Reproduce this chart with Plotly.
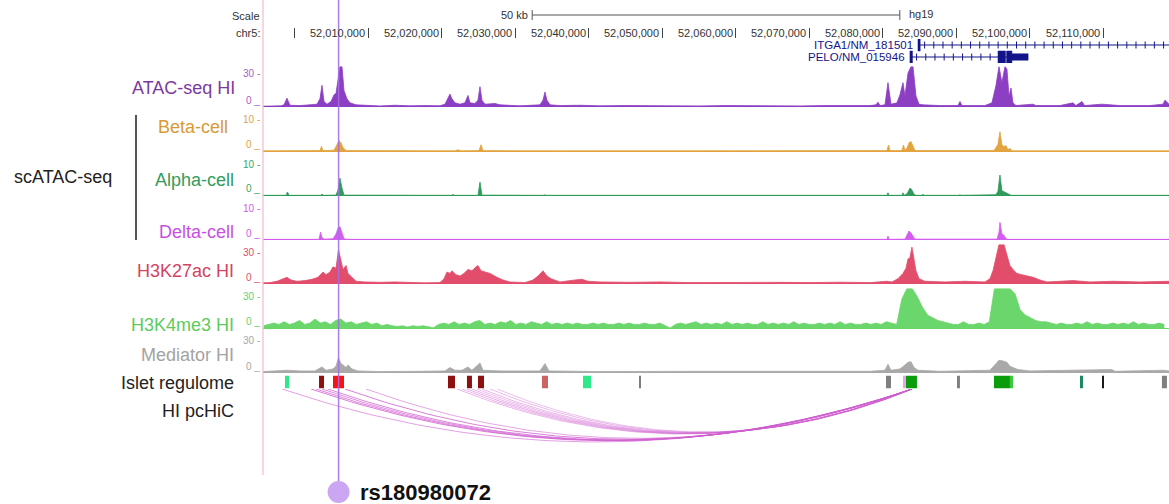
import numpy as np
import plotly.graph_objects as go

W, H = 1169, 504
FONT = "Liberation Sans, Arial, Helvetica, sans-serif"

# ---------------------------------------------------------------- data
view_start_kb = 51995.72
view_end_kb = 52118.94
chrom_label = "chr5:"
genome_label = "hg19"
scale_bar_kb = 50
chr_ticks_kb = [52000, 52010, 52020, 52030, 52040, 52050, 52060, 52070, 52080, 52090, 52100, 52110]
chr_tick_labels = ["", "52,010,000", "52,020,000", "52,030,000", "52,040,000", "52,050,000",
                   "52,060,000", "52,070,000", "52,080,000", "52,090,000", "52,100,000", "52,110,000"]

snp_kb = 52006.0
snp_name = "rs180980072"

gene_names = ["ITGA1/NM_181501", "PELO/NM_015946"]
gene_rows = [1, 0]
gene_tx_start_kb = [52084.80, 52083.71]
gene_tx_end_kb = [52140.00, 52099.78]
gene_exons_kb = [
    [(52084.80, 52085.10, 1)],
    [(52083.71, 52084.05, 1), (52095.68, 52096.70, 1), (52096.85, 52097.58, 1), (52097.58, 52099.78, 0)],
]

# signal profiles: (position kb, value)
atac_signal = [
    (51995.72, 0.5), (51997.35, 1), (51998.17, 0.8), (51998.58, 1.5), (51998.98, 6.5), (51999.39, 1.2),
    (52000.75, 1), (52002.11, 1.5), (52003.06, 2), (52003.47, 6), (52003.74, 16), (52004.02, 4),
    (52004.42, 2), (52004.97, 4), (52005.38, 9), (52005.65, 10), (52005.92, 22), (52006.19, 30),
    (52006.46, 30), (52006.74, 12), (52007.14, 6), (52007.55, 3), (52008.37, 1.5), (52009.59, 1),
    (52011.63, 0.7), (52013.67, 1.2), (52015.71, 0.8), (52017.75, 1), (52019.79, 0.8), (52020.47, 2),
    (52020.88, 7), (52021.15, 9.5), (52021.42, 6), (52021.83, 3), (52022.51, 2), (52023.19, 3),
    (52023.60, 8.5), (52023.87, 3), (52024.55, 2.5), (52024.96, 5), (52025.23, 15), (52025.50, 5),
    (52025.91, 2), (52027.27, 2.5), (52027.95, 1.5), (52030.67, 0.8), (52033.39, 1.5), (52033.80, 5),
    (52034.07, 11), (52034.34, 5), (52034.75, 1.5), (52036.11, 1), (52038.83, 1.2), (52041.55, 0.8),
    (52044.95, 1), (52048.35, 0.8), (52051.75, 1), (52055.15, 0.7), (52058.55, 1), (52061.95, 0.8),
    (52065.35, 1), (52068.75, 0.7), (52072.15, 1), (52075.55, 0.8), (52078.27, 1), (52079.09, 1.5),
    (52079.36, 3.5), (52079.63, 1), (52080.31, 1.5), (52080.72, 18), (52081.13, 2), (52081.94, 3),
    (52082.35, 9), (52082.76, 18), (52083.03, 8), (52083.44, 25), (52083.85, 30), (52084.12, 30),
    (52084.53, 8), (52084.94, 2), (52085.48, 1.5), (52087.79, 1), (52090.24, 1), (52090.51, 4),
    (52090.78, 1), (52093.91, 1), (52094.86, 3), (52095.41, 16), (52095.82, 30), (52096.22, 18),
    (52096.63, 30), (52096.90, 28), (52097.18, 8), (52097.45, 14), (52097.72, 3), (52098.13, 1),
    (52100.44, 2), (52100.85, 1), (52104.11, 1), (52105.88, 3), (52106.29, 1), (52107.10, 4),
    (52107.46, 1), (52109.82, 2), (52112.27, 1), (52116.35, 1), (52118.12, 2), (52118.39, 5),
    (52118.94, 2),
]

beta_signal = [
    (51995.72, 0.15), (52003.47, 0.2), (52003.68, 1.3), (52003.88, 0.2), (52005.38, 0.3), (52005.78, 1.5),
    (52006.06, 2.7), (52006.33, 2.2), (52006.60, 1), (52007.01, 0.2), (52021.83, 0.15), (52022.24, 0.4),
    (52022.65, 0.15), (52025.10, 0.2), (52025.37, 1.7), (52025.64, 0.2), (52033.90, 0.15), (52034.07, 0.3),
    (52034.24, 0.15), (52080.58, 0.2), (52080.79, 1.6), (52080.99, 0.2), (52082.62, 0.2), (52082.83, 1.6),
    (52083.03, 0.3), (52083.30, 0.8), (52083.58, 2.2), (52083.85, 2.5), (52084.12, 1.2), (52084.39, 0.2),
    (52095.14, 0.2), (52095.41, 1.2), (52095.68, 1.8), (52095.95, 5), (52096.22, 1.6), (52096.50, 1.2),
    (52096.77, 1.5), (52097.04, 0.4), (52097.31, 0.8), (52097.58, 0.15), (52118.94, 0.15),
]

alpha_signal = [
    (51995.72, 0.15), (51998.85, 0.15), (51999.05, 1.0), (51999.26, 0.15), (52003.61, 0.15), (52003.74, 0.5),
    (52003.88, 0.15), (52005.65, 0.2), (52005.92, 1.5), (52006.19, 4.5), (52006.46, 2), (52006.74, 0.2),
    (52021.42, 0.15), (52021.56, 0.4), (52021.70, 0.15), (52024.96, 0.15), (52025.23, 3.5), (52025.50, 0.2),
    (52033.93, 0.15), (52034.07, 0.3), (52034.20, 0.15), (52038.28, 0.15), (52038.42, 0.3), (52038.56, 0.15),
    (52080.58, 0.15), (52080.72, 0.8), (52080.86, 0.15), (52082.62, 0.15), (52082.76, 0.8), (52082.90, 0.15),
    (52083.30, 0.5), (52083.58, 1.5), (52083.71, 2), (52083.98, 1.5), (52084.26, 0.4), (52084.53, 0.15),
    (52085.34, 0.15), (52085.48, 0.4), (52085.62, 0.15), (52090.37, 0.15), (52090.51, 0.3), (52090.65, 0.15),
    (52095.41, 0.3), (52095.68, 1.2), (52095.95, 5.3), (52096.22, 1.3), (52096.63, 1.0), (52097.04, 0.6),
    (52097.31, 0.3), (52097.50, 0.15), (52118.94, 0.15),
]

delta_signal = [
    (51995.72, 0.15), (52003.34, 0.15), (52003.54, 2), (52003.74, 0.6), (52004.02, 0.2), (52005.24, 0.3),
    (52005.65, 1.5), (52005.92, 3), (52006.19, 3.4), (52006.46, 2), (52006.74, 0.3), (52007.00, 0.15),
    (52080.58, 0.15), (52080.72, 1), (52080.86, 0.15), (52083.03, 0.2), (52083.30, 1.2), (52083.58, 2.3),
    (52083.85, 1.8), (52084.12, 1), (52084.39, 0.2), (52095.55, 0.2), (52095.82, 2), (52095.95, 4.5),
    (52096.22, 1.5), (52096.50, 1.2), (52096.77, 0.3), (52097.00, 0.15), (52118.94, 0.15),
]

h3k27ac_signal = [
    (51995.72, 0.8), (51996.67, 1), (51997.62, 2), (51998.44, 3.5), (51998.98, 5), (51999.53, 3),
    (52000.34, 2), (52001.43, 2.5), (52002.38, 3.5), (52003.20, 5), (52003.88, 9), (52004.29, 7),
    (52004.83, 9), (52005.24, 13), (52005.65, 12), (52005.99, 26), (52006.26, 18), (52006.60, 11),
    (52007.01, 14), (52007.28, 8), (52007.82, 5), (52008.37, 2), (52009.59, 1.5), (52011.63, 1.2),
    (52013.67, 1.5), (52015.71, 1), (52017.75, 0.8), (52019.79, 1), (52020.34, 4), (52020.74, 9),
    (52021.15, 8), (52021.42, 10), (52021.97, 7), (52022.51, 6), (52023.06, 8), (52023.60, 11),
    (52024.14, 10), (52024.69, 13), (52024.96, 14), (52025.37, 10), (52026.05, 9), (52026.59, 8),
    (52027.54, 5), (52028.36, 3), (52029.31, 1.5), (52031.35, 1), (52032.44, 3), (52033.12, 6),
    (52033.80, 10), (52034.34, 6), (52034.89, 4), (52036.11, 1.5), (52038.15, 3), (52039.10, 3.5),
    (52039.92, 2), (52041.55, 1.5), (52045.63, 1.2), (52049.71, 1.5), (52053.79, 1), (52057.87, 1.2),
    (52061.95, 1), (52066.03, 1.2), (52070.11, 1), (52074.19, 1.3), (52078.27, 1), (52080.58, 2),
    (52081.26, 1.5), (52082.08, 4), (52082.76, 8), (52083.17, 12), (52083.44, 19), (52083.71, 20),
    (52083.98, 28), (52084.26, 18), (52084.53, 10), (52084.94, 4), (52085.75, 2), (52088.47, 1.5),
    (52091.19, 2), (52093.91, 1.5), (52094.59, 4), (52095.00, 10), (52095.41, 20), (52095.82, 30),
    (52096.22, 30), (52096.50, 30), (52096.90, 22), (52097.31, 14), (52097.86, 10), (52098.26, 8),
    (52098.94, 7), (52099.62, 6), (52100.44, 5), (52101.39, 3), (52102.34, 1.5), (52105.88, 2.5),
    (52108.19, 1.5), (52111.32, 2), (52114.99, 1.5), (52118.94, 2),
]

# fixed-step track (bins every 0.7 kb starting at 51995.8 kb)
h3k4me3_start_kb = 51995.8
h3k4me3_step_kb = 0.7
h3k4me3_values = [
    2, 3, 4, 3, 5, 3, 4, 6, 3, 4,
    7, 4, 5, 3, 6, 7, 4, 5, 3, 4,
    5, 3, 4, 2, 3, 2, 1.5, 2, 1, 2,
    1.5, 2, 1, 0.5, 3, 4, 3, 5, 3, 4,
    3, 5, 6, 3, 4, 3, 5, 4, 6, 3,
    4, 3, 5, 4, 3, 5, 3, 4, 3, 4,
    3, 4, 3, 3, 4, 3, 4, 3, 3, 4,
    3, 4, 3, 3, 4, 3, 3, 4, 2, 0.3,
    3, 4, 3, 4, 5, 3, 4, 3, 4, 3,
    5, 3, 4, 3, 4, 3, 3, 5, 3, 4,
    3, 4, 3, 5, 3, 4, 3, 3, 4, 3,
    4, 3, 5, 3, 4, 3, 3, 4, 3, 4,
    3, 5, 4, 3, 22, 30, 30, 24, 16, 10,
    8, 6, 5, 4, 3, 3, 5, 3, 3, 4,
    3, 5, 30, 30, 30, 30, 26, 14, 10, 8,
    6, 5, 5, 4, 3, 4, 3, 3, 4, 3,
    5, 3, 4, 3, 3, 4, 3, 4, 3, 5,
    3, 4, 3, 3, 4, 3,
]

mediator_signal = [
    (51995.72, 1), (51998.98, 2), (52000.75, 1.5), (52002.79, 1.5), (52003.74, 4.5), (52004.29, 2),
    (52005.24, 3), (52005.65, 5), (52005.99, 11.4), (52006.33, 7), (52006.60, 6), (52007.01, 4),
    (52007.28, 6), (52007.82, 3), (52008.64, 1.5), (52011.63, 1), (52017.07, 1.2), (52020.47, 1.5),
    (52021.15, 4), (52021.83, 2), (52022.78, 2), (52023.60, 4.5), (52024.14, 2), (52025.23, 7.5),
    (52025.64, 2), (52027.95, 1.5), (52033.39, 1.5), (52034.07, 7), (52034.62, 1.5), (52041.55, 1),
    (52055.15, 1.2), (52068.75, 1), (52078.27, 1.2), (52080.31, 2), (52080.72, 6.5), (52081.13, 2),
    (52082.35, 3), (52083.03, 6), (52083.44, 8), (52083.85, 8.4), (52084.26, 4), (52084.80, 2),
    (52087.79, 1.2), (52094.59, 2), (52095.27, 6), (52095.82, 9.5), (52096.36, 9), (52096.90, 8),
    (52097.31, 5), (52097.86, 3.5), (52098.40, 2.5), (52100.03, 1.5), (52111.18, 2.5), (52111.59, 1.2),
    (52118.12, 2), (52118.94, 1.5),
]

# islet regulome segments
regulome_start_kb = [51998.71, 52003.34, 52005.24, 52020.88, 52023.46, 52024.96, 52033.66, 52039.24, 52046.86,
                     52080.45, 52082.76, 52083.17, 52090.24, 52095.14, 52097.31, 52106.97, 52109.96, 52117.98]
regulome_end_kb = [51999.26, 52004.02, 52006.74, 52021.83, 52024.14, 52025.78, 52034.48, 52040.33, 52047.13,
                   52081.13, 52083.17, 52084.66, 52090.51, 52097.31, 52097.72, 52107.24, 52110.10, 52118.66]
regulome_state = ["ctcf", "enh_cluster", "strong_enh", "enh_cluster", "enh_cluster", "enh_cluster", "weak_enh",
                  "ctcf", "other", "other", "bivalent", "active_prom", "other", "active_prom", "weak_prom",
                  "flanking", "insulator", "other"]

# promoter capture Hi-C interactions (bait = PELO/ITGA1 promoter)
pchic_bait_kb = 52083.98
pchic_other_kb = [51998.30, 52002.25, 52002.93, 52003.74, 52004.56, 52006.87, 52009.73,
                  52022.10, 52022.78, 52023.46, 52024.14, 52024.82, 52025.50, 52026.59, 52027.54]
pchic_score = [0.6, 0.8, 0.75, 0.7, 0.75, 0.8, 0.55, 0.45, 0.45, 0.5, 0.45, 0.4, 0.45, 0.45, 0.4]

# ---------------------------------------------------------------- styles
state_colors = {
    "ctcf": "#2EE88A", "enh_cluster": "#8C1010", "strong_enh": "#F51414", "weak_enh": "#CD6262",
    "other": "#7F7F7F", "bivalent": "#E6A6E6", "active_prom": "#0A9C0A", "weak_prom": "#3CC83C",
    "flanking": "#178A5E", "insulator": "#1A1A1A",
}


def yp(px):
    return 1 - px / H


tracks = [
    dict(label="ATAC-seq HI", data=atac_signal, vmax=30, color="#8C3FC2", lab="#7B3A9E", tick="#A464C6",
         top=66.5, bot=107.5, ly=88, lx=237),
    dict(label="Beta-cell", data=beta_signal, vmax=10, color="#E3A33E", lab="#D99A36", tick="#DDA448",
         top=112, bot=152, ly=127, lx=230),
    dict(label="Alpha-cell", data=alpha_signal, vmax=10, color="#2F9B5A", lab="#339B5C", tick="#3AA565",
         top=156.5, bot=196.5, ly=180, lx=236),
    dict(label="Delta-cell", data=delta_signal, vmax=10, color="#D45CF0", lab="#C94FE4", tick="#CF5CE8",
         top=201, bot=240.5, ly=232, lx=236),
    dict(label="H3K27ac HI", data=h3k27ac_signal, vmax=30, color="#E24D6C", lab="#D4435F", tick="#D9506B",
         top=244.5, bot=284.5, ly=271, lx=236),
    dict(label="H3K4me3 HI",
         data=[(h3k4me3_start_kb + h3k4me3_step_kb * i, v) for i, v in enumerate(h3k4me3_values)],
         vmax=30, color="#6BD66B", lab="#5DCB5D", tick="#6BD06B", top=288.5, bot=329, ly=325, lx=236),
    dict(label="Mediator HI", data=mediator_signal, vmax=30, color="#A9A9A9", lab="#A3A3A3", tick="#A8A8A8",
         top=333, bot=373.5, ly=355, lx=236),
]

fig = go.Figure()
layout = dict(
    width=W, height=H, margin=dict(l=0, r=0, t=0, b=0, pad=0),
    paper_bgcolor="white", plot_bgcolor="white", showlegend=False,
    font=dict(family=FONT, color="#222"),
    xaxis=dict(domain=[263 / W, 1], range=[view_start_kb, view_end_kb], anchor="free", position=yp(38),
               side="top", ticks="outside", ticklen=10, tickwidth=1, tickcolor="#444",
               tickvals=chr_ticks_kb, showticklabels=False, showgrid=False, zeroline=False,
               showline=False, fixedrange=True),
)
annotations = []
shapes = []


def note(text, x, y, xref="paper", yref="paper", xanchor="right", yanchor="middle", size=18,
         color="#222", xshift=0):
    annotations.append(dict(text=text, x=x, y=y, xref=xref, yref=yref, xanchor=xanchor, yanchor=yanchor,
                            xshift=xshift, showarrow=False, font=dict(size=size, color=color, family=FONT)))


for k, tr in enumerate(tracks):
    ax = "y" if k == 0 else f"y{k + 1}"
    axkey = "yaxis" if k == 0 else f"yaxis{k + 1}"
    pad = tr["vmax"] * 0.015
    layout[axkey] = dict(domain=[yp(tr["bot"]), yp(tr["top"])], range=[-pad, tr["vmax"]], anchor="x",
                         showticklabels=False, showgrid=False, ticks="", showline=False,
                         zeroline=True, zerolinecolor=tr["color"], zerolinewidth=1, fixedrange=True)
    xs = [p[0] for p in tr["data"]]
    ys = [p[1] for p in tr["data"]]
    fig.add_trace(go.Scatter(x=xs, y=ys, xaxis="x", yaxis=ax, mode="lines", fill="tozeroy",
                             line=dict(color=tr["color"], width=0.8), fillcolor=tr["color"],
                             hoverinfo="skip"))
    note(tr["label"], tr["lx"] / W, yp(tr["ly"]), color=tr["lab"])
    note(f"{tr['vmax']} -", 262 / W, 1, yref=f"{ax} domain", yanchor="top", size=10, color=tr["tick"])
    note("0 _", 262 / W, 0, yref=f"{ax} domain", yanchor="bottom", size=10, color=tr["tick"])

# ---- islet regulome (bars on their own row)
layout["yaxis8"] = dict(domain=[yp(388.5), yp(375.5)], range=[0, 1], anchor="x", visible=False, fixedrange=True)
reg_centers = [(a + b) / 2 for a, b in zip(regulome_start_kb, regulome_end_kb)]
reg_widths = [b - a for a, b in zip(regulome_start_kb, regulome_end_kb)]
fig.add_trace(go.Bar(x=reg_centers, y=[1] * len(reg_centers), width=reg_widths, base=0,
                     marker=dict(color=[state_colors[s] for s in regulome_state], line=dict(width=0)),
                     xaxis="x", yaxis="y8", hoverinfo="skip"))
note("Islet regulome", 236 / W, yp(383))

# ---- pcHiC arcs
layout["yaxis9"] = dict(domain=[yp(446.2), yp(389)], range=[-10, 0], anchor="x", visible=False, fixedrange=True)
t = np.linspace(0, 1, 90)
for src, sc in zip(pchic_other_kb, pchic_score):
    a, b = sorted((src, pchic_bait_kb))
    depth = np.sqrt(b - a)
    fig.add_trace(go.Scatter(x=a + (b - a) * t, y=-depth * 4 * t * (1 - t), xaxis="x", yaxis="y9",
                             mode="lines", line=dict(color=f"rgba(208,95,208,{sc})", width=1),
                             hoverinfo="skip"))
note("HI pcHiC", 236 / W, yp(411))

# ---- gene models
layout["yaxis10"] = dict(domain=[yp(63), yp(39)], range=[-0.5, 1.5], anchor="x", visible=False, fixedrange=True)
navy = "#14148A"
for name, row, s, e, exons in zip(gene_names, gene_rows, gene_tx_start_kb, gene_tx_end_kb, gene_exons_kb):
    e_vis = min(e, view_end_kb + 1)
    shapes.append(dict(type="line", xref="x", yref="y10", x0=s, x1=e_vis, y0=row, y1=row,
                       line=dict(color=navy, width=1)))
    for xa, xb, thick in exons:
        hh = 0.5 if thick else 0.27
        shapes.append(dict(type="rect", xref="x", yref="y10", x0=xa, x1=xb, y0=row - hh, y1=row + hh,
                           fillcolor=navy, line=dict(color=navy, width=0.5)))
    marks = [m for m in np.arange(s + 0.9, e_vis, 1.25)
             if not any(xa - 0.3 <= m <= xb + 0.3 for xa, xb, _ in exons)]
    fig.add_trace(go.Scatter(x=marks, y=[row] * len(marks), xaxis="x", yaxis="y10", mode="markers",
                             marker=dict(symbol="line-ns", size=5, line=dict(color=navy, width=1)),
                             hoverinfo="skip"))
    note(name, s, row, xref="x", yref="y10", xshift=-3, size=11.5, color=navy)

# ---- scale / chromosome ruler
center = (view_start_kb + view_end_kb) / 2
sb0, sb1 = center - scale_bar_kb / 2, center + scale_bar_kb / 2
shapes.append(dict(type="line", xref="x", yref="paper", x0=sb0, x1=sb1, y0=yp(15), y1=yp(15),
                   line=dict(color="#555", width=1)))
for xe in (sb0, sb1):
    shapes.append(dict(type="line", xref="x", yref="paper", x0=xe, x1=xe, y0=yp(10), y1=yp(20),
                       line=dict(color="#555", width=1)))
note(f"{scale_bar_kb} kb", sb0, yp(15), xref="x", xshift=-2, size=11, color="#333")
note(genome_label, sb1, yp(14), xref="x", xanchor="left", xshift=7, size=11, color="#333")
note("Scale", 262 / W, yp(16), size=11, color="#333")
note(chrom_label, 262 / W, yp(33), size=11, color="#333")
for tk, lab in zip(chr_ticks_kb, chr_tick_labels):
    if lab:
        note(lab, tk, yp(33), xref="x", xshift=-1, size=11, color="#333")

# ---- scATAC-seq bracket
shapes.append(dict(type="line", xref="paper", yref="paper", x0=136 / W, x1=136 / W, y0=yp(240), y1=yp(115),
                   line=dict(color="#555", width=2)))
note("scATAC-seq", 63 / W, yp(177), xanchor="center")

# ---- left guide line and SNP highlight
shapes.append(dict(type="line", xref="paper", yref="paper", x0=263 / W, x1=263 / W, y0=yp(475), y1=1,
                   line=dict(color="#F6B9CB", width=1.2), layer="above"))
shapes.append(dict(type="line", xref="x", yref="paper", x0=snp_kb, x1=snp_kb, y0=yp(481), y1=1,
                   line=dict(color="rgba(165,110,230,0.9)", width=1.5), layer="above"))
shapes.append(dict(type="circle", xref="x", xsizemode="pixel", xanchor=snp_kb, x0=-11, x1=11,
                   yref="paper", y0=yp(503), y1=yp(481), fillcolor="#CBA6F2", line=dict(width=0),
                   layer="above"))
note(f"<b>{snp_name}</b>", snp_kb, yp(492), xref="x", xanchor="left", xshift=19, size=22, color="#111")

layout["annotations"] = annotations
layout["shapes"] = shapes
fig.update_layout(**layout)
fig.write_html("out.html")
